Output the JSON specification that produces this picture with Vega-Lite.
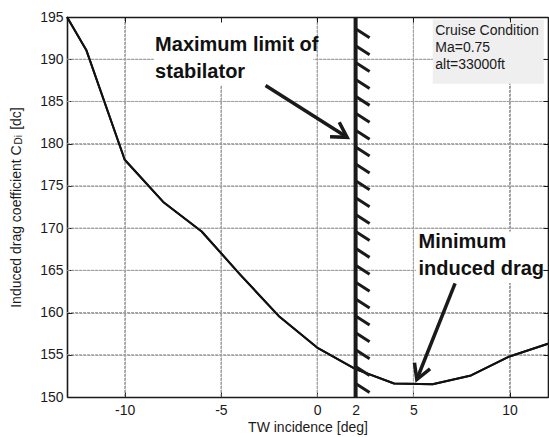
{
  "$schema": "https://vega.github.io/schema/vega-lite/v6.json",
  "width": 481,
  "height": 380,
  "autosize": {"type": "none"},
  "padding": {"left": 67, "top": 17, "right": 1, "bottom": 40},
  "background": "white",
  "config": {
    "view": {"stroke": null},
    "font": "Liberation Sans",
    "axis": {
      "labelFont": "Liberation Sans",
      "labelFontSize": 14,
      "labelColor": "#1a1a1a",
      "titleFont": "Liberation Sans",
      "titleFontSize": 14,
      "titleFontWeight": "normal",
      "titleColor": "#1a1a1a",
      "domainColor": "#1a1a1a",
      "domainWidth": 1.6,
      "tickColor": "#1a1a1a",
      "tickWidth": 1,
      "tickSize": -5,
      "gridColor": "#a0a0a0",
      "gridDash": [3, 1],
      "gridWidth": 1
    }
  },
  "datasets": {
    "drag": [
      {"inc": -13, "cdi": 195.0},
      {"inc": -12, "cdi": 191.1},
      {"inc": -10, "cdi": 178.1},
      {"inc": -8, "cdi": 173.1},
      {"inc": -6, "cdi": 169.6},
      {"inc": -4, "cdi": 164.5},
      {"inc": -2, "cdi": 159.6},
      {"inc": 0, "cdi": 155.85},
      {"inc": 2, "cdi": 153.3},
      {"inc": 4, "cdi": 151.6},
      {"inc": 6, "cdi": 151.5},
      {"inc": 8, "cdi": 152.55},
      {"inc": 10, "cdi": 154.8},
      {"inc": 12, "cdi": 156.3}
    ],
    "gridX": [{"pos": -10}, {"pos": -5}, {"pos": 0}, {"pos": 5}, {"pos": 10}],
    "gridY": [{"pos": 155}, {"pos": 160}, {"pos": 165}, {"pos": 170}, {"pos": 175}, {"pos": 180}, {"pos": 185}, {"pos": 190}],
    "hatch": [
      {"h": 193.6}, {"h": 191.6}, {"h": 189.6}, {"h": 187.6}, {"h": 185.6},
      {"h": 183.6}, {"h": 181.6}, {"h": 179.6}, {"h": 177.6}, {"h": 175.6},
      {"h": 173.6}, {"h": 171.6}, {"h": 169.6}, {"h": 167.6}, {"h": 165.6},
      {"h": 163.6}, {"h": 161.6}, {"h": 159.6}, {"h": 157.6}, {"h": 155.6},
      {"h": 153.6}, {"h": 151.6}
    ],
    "arrows": [
      {"seg": "limit", "k": 0, "x": -2.68, "y": 186.9},
      {"seg": "limit", "k": 1, "x": 1.56, "y": 180.75},
      {"seg": "limitHead", "k": 0, "x": 1.15, "y": 182.54},
      {"seg": "limitHead", "k": 1, "x": 1.56, "y": 180.75},
      {"seg": "limitHead", "k": 2, "x": 0.67, "y": 180.83},
      {"seg": "min", "k": 0, "x": 7.17, "y": 163.45},
      {"seg": "min", "k": 1, "x": 5.18, "y": 152.07},
      {"seg": "minHead", "k": 0, "x": 5.87, "y": 153.32},
      {"seg": "minHead", "k": 1, "x": 5.18, "y": 152.07},
      {"seg": "minHead", "k": 2, "x": 5.06, "y": 154.06}
    ],
    "single": [{}]
  },
  "resolve": {"axis": {"x": "independent", "y": "independent"}},
  "layer": [
    {
      "data": {"name": "drag"},
      "mark": {"type": "line", "color": "#111", "strokeWidth": 2, "strokeJoin": "round"},
      "encoding": {
        "x": {
          "field": "inc", "type": "quantitative",
          "scale": {"domain": [-13, 12], "nice": false, "zero": false},
          "axis": {"orient": "bottom", "values": [-10, -5, 0, 2, 5, 10], "grid": true, "ticks": true, "labelPadding": 11, "title": "TW incidence [deg]", "titlePadding": 3, "labelFlush": false, "labelExpr": "replace(datum.label, '\u2212', '-')"}
        },
        "y": {
          "field": "cdi", "type": "quantitative",
          "scale": {"domain": [150, 195], "nice": false, "zero": false},
          "axis": {"orient": "left", "values": [150, 155, 160, 165, 170, 175, 180, 185, 190, 195], "grid": true, "ticks": true, "labelPadding": 9, "title": "Induced drag coefficient C\u00a0\u00a0\u00a0 [dc]", "titlePadding": 16, "labelFlush": false}
        }
      }
    },
    {
      "data": {"name": "gridX"},
      "mark": {"type": "rule", "color": "#a0a0a0", "strokeWidth": 1, "strokeDash": [3, 1]},
      "encoding": {
        "x": {"field": "pos", "type": "quantitative", "axis": null},
        "y": {"datum": 150, "type": "quantitative", "axis": null},
        "y2": {"datum": 195}
      }
    },
    {
      "data": {"name": "gridY"},
      "mark": {"type": "rule", "color": "#a0a0a0", "strokeWidth": 1, "strokeDash": [3, 1]},
      "encoding": {
        "y": {"field": "pos", "type": "quantitative", "axis": null},
        "x": {"datum": -13, "type": "quantitative", "axis": null},
        "x2": {"datum": 12}
      }
    },
    {
      "data": {"name": "single"},
      "mark": {"type": "rect", "fill": "white"},
      "encoding": {
        "x": {"datum": -8.49, "type": "quantitative", "axis": null},
        "x2": {"datum": -0.19},
        "y": {"datum": 195, "type": "quantitative", "axis": null},
        "y2": {"datum": 186.9}
      }
    },
    {
      "data": {"name": "single"},
      "mark": {"type": "rect", "fill": "white"},
      "encoding": {
        "x": {"datum": 5.15, "type": "quantitative", "axis": null},
        "x2": {"datum": 11.47},
        "y": {"datum": 169.6, "type": "quantitative", "axis": null},
        "y2": {"datum": 163.5}
      }
    },
    {
      "data": {"name": "single"},
      "mark": {"type": "rect", "fill": "#efefef"},
      "encoding": {
        "x": {"datum": 6.01, "type": "quantitative",
          "axis": {"orient": "top", "values": [-10, -5, 0, 2, 5, 10], "labels": false, "grid": false, "ticks": true, "title": null, "zindex": 1}},
        "x2": {"datum": 11.78},
        "y": {"datum": 194.7, "type": "quantitative",
          "axis": {"orient": "right", "values": [150, 155, 160, 165, 170, 175, 180, 185, 190, 195], "labels": false, "grid": false, "ticks": true, "title": null, "zindex": 1}},
        "y2": {"datum": 187.1}
      }
    },
    {
      "data": {"name": "drag"},
      "mark": {"type": "line", "color": "#111", "strokeWidth": 2, "strokeJoin": "round"},
      "encoding": {
        "x": {"field": "inc", "type": "quantitative", "axis": null},
        "y": {"field": "cdi", "type": "quantitative", "axis": null}
      }
    },
    {
      "data": {"name": "single"},
      "mark": {"type": "rule", "color": "#1a1a1a", "strokeWidth": 4},
      "encoding": {
        "x": {"datum": 2, "type": "quantitative", "axis": null}
      }
    },
    {
      "data": {"name": "hatch"},
      "mark": {"type": "rule", "color": "#1a1a1a", "strokeWidth": 3, "x2Offset": 14, "y2Offset": 9},
      "encoding": {
        "x": {"datum": 2, "type": "quantitative", "axis": null},
        "x2": {"datum": 2},
        "y": {"field": "h", "type": "quantitative", "axis": null},
        "y2": {"field": "h"}
      }
    },
    {
      "data": {"name": "arrows"},
      "mark": {"type": "line", "color": "#1a1a1a", "strokeWidth": 3.5, "strokeCap": "butt", "strokeJoin": "miter"},
      "encoding": {
        "x": {"field": "x", "type": "quantitative", "axis": null},
        "y": {"field": "y", "type": "quantitative", "axis": null},
        "detail": {"field": "seg"},
        "order": {"field": "k"}
      }
    },
    {
      "data": {"name": "single"},
      "mark": {"type": "text", "text": ["Maximum limit of", "stabilator"], "font": "Liberation Sans", "fontWeight": "bold", "fontSize": 20, "lineHeight": 27, "align": "left", "baseline": "alphabetic", "color": "#111"},
      "encoding": {
        "x": {"datum": -8.42, "type": "quantitative", "axis": null},
        "y": {"datum": 191.0, "type": "quantitative", "axis": null}
      }
    },
    {
      "data": {"name": "single"},
      "mark": {"type": "text", "text": ["Minimum", "induced drag"], "font": "Liberation Sans", "fontWeight": "bold", "fontSize": 20, "lineHeight": 27, "align": "left", "baseline": "alphabetic", "color": "#111"},
      "encoding": {
        "x": {"datum": 5.27, "type": "quantitative", "axis": null},
        "y": {"datum": 167.6, "type": "quantitative", "axis": null}
      }
    },
    {
      "data": {"name": "single"},
      "mark": {"type": "text", "text": ["Cruise Condition", "Ma=0.75", "alt=33000ft"], "font": "Liberation Sans", "fontSize": 14, "lineHeight": 16.7, "align": "left", "baseline": "alphabetic", "color": "#1a1a1a"},
      "encoding": {
        "x": {"datum": 6.14, "type": "quantitative", "axis": null},
        "y": {"datum": 192.83, "type": "quantitative", "axis": null}
      }
    },
    {
      "data": {"name": "single"},
      "mark": {"type": "text", "text": "Di", "font": "Liberation Sans", "fontSize": 10, "angle": 270, "align": "center", "baseline": "alphabetic", "color": "#1a1a1a", "xOffset": -45},
      "encoding": {
        "x": {"datum": -13, "type": "quantitative", "axis": null},
        "y": {"datum": 180.47, "type": "quantitative", "axis": null}
      }
    }
  ]
}
